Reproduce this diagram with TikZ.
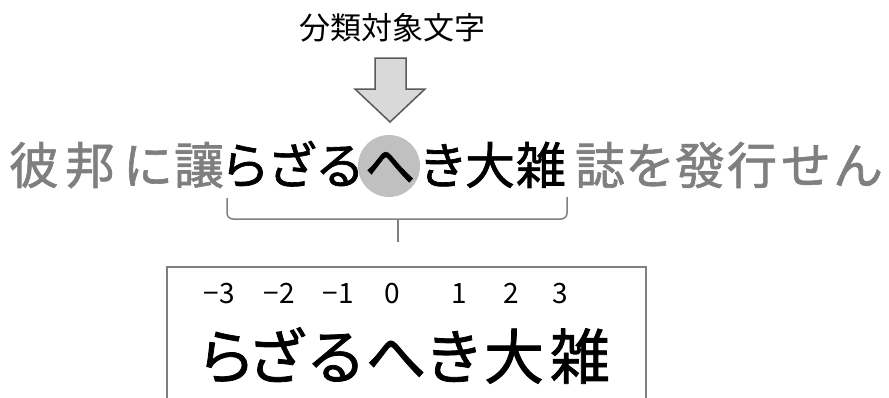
\documentclass[tikz,border=0pt]{standalone}
\usepackage{fontspec}
\newfontfamily\jp{Noto Sans CJK JP}
\newfontfamily\jpb[FakeBold=1.3]{Noto Sans CJK JP}
\definecolor{txtgray}{HTML}{7F7F7F}
\definecolor{circgray}{HTML}{C0C0C0}
\definecolor{arrowfill}{HTML}{D9D9D9}
\definecolor{arrowline}{HTML}{595959}
\definecolor{linegray}{HTML}{808080}
\tikzset{
  ch/.style={anchor=base, inner sep=0pt, font=\jpb\fontsize{50}{50}\selectfont},
  chgray/.style={ch, text=txtgray},
  chblack/.style={ch, text=black},
  bigch/.style={anchor=base, inner sep=0pt, font=\jpb\fontsize{60}{60}\selectfont},
  numlbl/.style={anchor=base, inner sep=0pt, font=\jp\fontsize{28}{28}\selectfont},
  title/.style={anchor=base, inner sep=0pt, font=\jp\fontsize{31}{31}\selectfont},
  bracketline/.style={draw=linegray, line width=1.5pt, rounded corners=6pt},
  boxline/.style={draw=linegray, line width=1.5pt},
}
\begin{document}
\begin{tikzpicture}[x=1pt, y=-1pt]
\useasboundingbox (0,0) rectangle (889,397);
% title
\node[title] (title) at (392,39.5) {分類対象文字};
% block arrow
\path[draw=arrowline, fill=arrowfill, line width=1.5pt, line join=miter]
  (375,58) -- (406,58) -- (406,89) -- (425,89) -- (390,122) -- (355,89) -- (375,89) -- cycle;
% highlight circle
\node[circle, fill=circgray, minimum size=62pt, inner sep=0pt] (hl) at (389,166) {};
% main line
\foreach \c/\x [count=\i] in {彼/34,邦/90,に/148,讓/199}
  \node[chgray] (g\i) at (\x,184) {\c};
\foreach \c/\x [count=\i] in {ら/245,ざ/292,る/340,へ/390,き/443,大/490,雑/541}
  \node[chblack] (b\i) at (\x,184) {\c};
\foreach \c/\x [count=\i] in {誌/600,を/650,發/700,行/752,せ/806,ん/858}
  \node[chgray] (r\i) at (\x,184) {\c};
% bracket
\coordinate (bl) at (227,198);
\coordinate (br) at (567,197);
\coordinate (bm) at (398,219);
\coordinate (bt) at (398,242);
\draw[bracketline] (bl) -- (227,219) -- (567,219) -- (br);
\draw[draw=linegray, line width=1.5pt] (bm) -- (bt);
% box (open at bottom)
\draw[boxline] (167,400) -- (167,267) -- (646,267) -- (646,400);
% numbers
\foreach \n/\x [count=\i] in {−3/219,−2/279,−1/338,0/392,1/459,2/511,3/560}
  \node[numlbl] (n\i) at (\x,303) {\n};
% bottom chars
\foreach \c/\x [count=\i] in {ら/226,ざ/277,る/336,へ/396,き/454,大/514,雑/580}
  \node[bigch] (k\i) at (\x,379) {\c};
\end{tikzpicture}
\end{document}
